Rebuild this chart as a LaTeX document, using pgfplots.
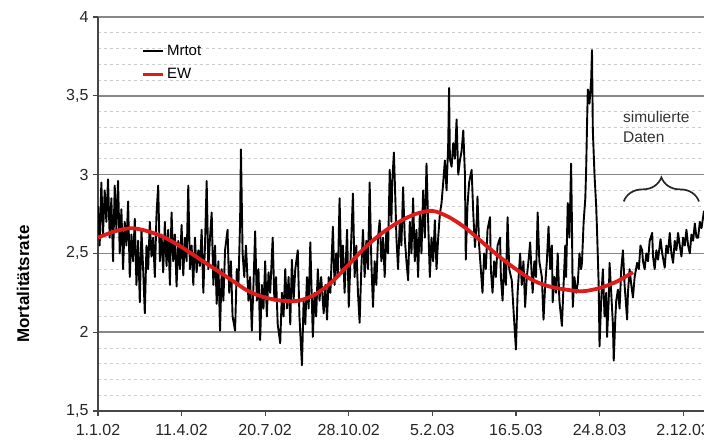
\documentclass[border=0pt]{standalone}
\usepackage{fontspec}
\setmainfont{Liberation Sans}
\usepackage{pgfplots}
\pgfplotsset{compat=1.18}
\usetikzlibrary{decorations.pathreplacing}
\definecolor{ewred}{RGB}{222,28,28}
\definecolor{gridgray}{RGB}{135,135,135}
\definecolor{minorgray}{RGB}{205,205,205}
\definecolor{axgray}{RGB}{70,70,70}
\begin{document}
\begin{tikzpicture}
\begin{axis}[
  name=ax,
  width=606pt, height=394pt, scale only axis,
  xmin=0, xmax=725, ymin=1.5, ymax=4,
  axis lines*=left,
  axis line style={-, line width=2pt, axgray},
  xtick={0,100,200,300,400,500,600,700},
  xticklabels={1.1.02,11.4.02,20.7.02,28.10.02,5.2.03,16.5.03,24.8.03,2.12.03},
  ytick={1.5,2,2.5,3,3.5,4},
  yticklabels={{1,5},2,{2,5},3,{3,5},4},
  minor ytick={1.6,1.7,1.8,1.9,2.1,2.2,2.3,2.4,2.6,2.7,2.8,2.9,3.1,3.2,3.3,3.4,3.6,3.7,3.8,3.9},
  ymajorgrids, yminorgrids,
  major grid style={gridgray, line width=1.6pt},
  minor grid style={minorgray, line width=0.9pt, dash pattern=on 3pt off 3pt},
  minor tick length=0pt,
  tick align=outside, major tick length=5pt,
  tick style={axgray, line width=1.2pt},
  ticklabel style={font=\fontsize{16}{19}\selectfont, text=black!85},
  xticklabel style={yshift=-5pt},
  yticklabel style={xshift=-1pt},
  /pgf/number format/assume math mode=true,
  legend style={at={(0.071,0.935)}, anchor=north west, draw=none, fill=none,
    font=\fontsize{15}{17}\selectfont, row sep=8pt, inner sep=0pt},
  legend cell align=left,
  legend image code/.code={\draw[#1] (0pt,0pt) -- (20pt,0pt);},
]
\addplot[black, line width=1.9pt, line join=round, no markers] coordinates {
(0,2.80)(2,2.55)(4,2.95)(6,2.62)(8,2.90)(10,2.70)(12,2.97)(14,2.60)(16,2.85)(18,2.45)
(20,2.93)(22,2.65)(24,2.96)(26,2.50)(28,2.78)(30,2.40)(32,2.70)(34,2.55)(36,2.83)(38,2.35)
(40,2.62)(42,2.45)(44,2.72)(46,2.30)(48,2.58)(50,2.19)(52,2.65)(54,2.40)(56,2.12)(58,2.55)
(60,2.40)(62,2.70)(64,2.48)(66,2.60)(68,2.35)(70,2.75)(72,2.93)(74,2.45)(76,2.62)(78,2.38)
(80,2.70)(82,2.42)(84,2.65)(86,2.30)(88,2.76)(90,2.45)(92,2.62)(94,2.29)(96,2.58)(98,2.40)
(100,2.68)(102,2.36)(104,2.60)(106,2.45)(108,2.93)(110,2.40)(112,2.55)(114,2.30)(116,2.60)(118,2.38)
(120,2.52)(122,2.42)(124,2.65)(126,2.25)(128,2.55)(130,2.96)(132,2.40)(134,2.60)(136,2.76)(138,2.30)
(140,2.55)(142,2.18)(144,2.45)(146,2.01)(148,2.40)(150,2.20)(152,2.52)(155,2.65)(157,2.25)(159,2.45)
(161,2.10)(164,2.01)(166,2.40)(168,2.30)(170,2.70)(171,3.16)(173,2.50)(175,2.35)(177,2.55)(178,2.44)
(180,2.20)(182,2.35)(184,2.01)(186,2.30)(188,2.64)(190,2.20)(192,2.40)(194,1.95)(196,2.30)(198,2.15)
(200,2.45)(202,2.10)(204,2.38)(206,2.25)(209,2.60)(211,2.20)(213,2.35)(215,2.05)(218,1.93)(220,2.25)
(222,2.10)(224,2.40)(226,2.15)(228,2.35)(230,2.05)(232,2.46)(234,2.20)(236,2.40)(239,2.52)(241,2.10)
(244,1.79)(246,2.20)(248,2.05)(250,2.35)(252,2.15)(254,2.57)(257,1.97)(259,2.25)(261,2.10)(263,2.40)
(265,2.20)(267,2.35)(270,2.12)(272,2.30)(274,2.08)(276,2.35)(278,2.25)(281,2.67)(283,2.30)(285,2.50)
(287,2.35)(289,2.85)(291,2.40)(293,2.55)(295,2.25)(298,2.65)(300,2.16)(302,2.45)(305,2.88)(307,2.35)
(309,2.55)(311,2.25)(313,2.06)(315,2.40)(317,2.65)(319,2.35)(321,2.58)(323,2.40)(325,2.95)(327,2.45)
(329,2.16)(331,2.45)(333,2.30)(335,2.60)(337,2.71)(339,2.45)(341,2.60)(343,2.35)(345,2.65)(347,2.50)
(349,3.03)(351,2.70)(352,2.95)(354,3.14)(356,2.80)(357,2.60)(359,2.40)(361,2.70)(363,2.55)(365,2.92)
(367,2.60)(369,2.45)(371,2.33)(373,2.70)(375,2.50)(377,2.85)(379,2.45)(381,2.65)(383,2.35)(385,2.75)
(387,2.50)(389,2.90)(391,2.60)(393,3.07)(395,2.70)(397,2.35)(399,2.60)(401,2.45)(403,2.71)(405,2.40)
(407,2.60)(409,2.75)(411,2.82)(413,2.95)(415,3.09)(417,2.90)(419,3.20)(420,3.55)(421,3.10)(423,3.05)
(425,3.20)(427,3.10)(429,3.35)(431,3.00)(433,3.09)(435,3.15)(437,3.28)(439,3.00)(440,2.46)(442,2.80)
(444,2.95)(447,3.03)(449,2.75)(451,2.54)(453,2.70)(454,2.86)(456,2.55)(458,2.40)(460,2.25)(462,2.50)
(464,2.40)(466,2.65)(469,2.73)(470,2.40)(472,2.25)(474,2.45)(476,2.35)(478,2.55)(481,2.60)(482,2.35)
(484,2.20)(486,2.45)(488,2.30)(490,2.73)(492,2.40)(495,2.33)(497,2.15)(500,1.89)(502,2.25)(505,2.50)
(507,2.30)(509,2.45)(511,2.16)(513,2.35)(515,2.45)(517,2.57)(519,2.35)(520,2.25)(522,2.45)(524,2.35)
(526,2.76)(528,2.45)(531,2.35)(533,2.08)(535,2.30)(537,2.45)(539,2.67)(541,2.40)(543,2.55)(544,2.19)
(546,2.35)(548,2.25)(550,2.50)(552,2.20)(555,2.04)(557,2.30)(559,2.55)(560,2.35)(562,2.82)(564,2.60)
(566,3.07)(567,2.70)(568,2.16)(570,2.35)(572,2.25)(574,2.31)(576,2.50)(578,2.40)(579,2.44)(581,2.70)
(583,2.85)(584,3.03)(585,3.30)(586,3.54)(588,3.45)(590,3.60)(591,3.79)(592,3.28)(594,3.00)(596,2.80)
(597,2.65)(599,2.30)(600,1.91)(602,2.20)(604,2.40)(606,2.10)(608,2.25)(609,1.97)(611,2.20)(612,2.44)
(614,2.25)(616,2.05)(617,1.82)(619,2.10)(620,2.20)(622,2.27)(624,2.15)(626,2.40)(628,2.52)(630,2.30)
(633,2.08)(634,2.25)(636,2.40)(638,2.30)(640,2.22)(642,2.35)(645,2.44)(647,2.40)(649,2.55)(651,2.52)
(652,2.45)(654,2.40)(656,2.50)(658,2.45)(660,2.58)(663,2.63)(664,2.48)(666,2.40)(668,2.52)(670,2.46)
(673,2.59)(675,2.50)(678,2.41)(680,2.55)(682,2.50)(684,2.63)(686,2.50)(688,2.44)(690,2.58)(692,2.52)
(694,2.63)(696,2.55)(698,2.48)(700,2.60)(702,2.55)(704,2.65)(706,2.55)(708,2.50)(710,2.62)(712,2.58)
(714,2.69)(716,2.60)(718,2.60)(720,2.70)(722,2.66)(725,2.77)
};
\addlegendentry{Mrtot}
\addplot[ewred, line width=3.8pt, smooth, no markers] coordinates {
(0,2.60)(20,2.64)(40,2.66)(60,2.64)(80,2.60)(100,2.54)(120,2.47)(140,2.40)(160,2.33)
(180,2.26)(200,2.22)(220,2.20)(240,2.20)(260,2.24)(280,2.32)(300,2.43)(320,2.54)(340,2.63)
(360,2.70)(380,2.75)(400,2.77)(420,2.73)(440,2.66)(460,2.57)(480,2.48)(500,2.40)(520,2.33)
(540,2.29)(560,2.27)(580,2.26)(600,2.28)(620,2.32)(640,2.38)
};
\addlegendentry{EW}
\draw[decorate, decoration={brace, amplitude=24pt}, line width=1.7pt, black!85]
  (axis cs:629,2.83) -- (axis cs:719,2.83);
\node[anchor=north west, align=left, inner sep=0pt, text=black!80,
  font=\fontsize{15.5}{20}\selectfont] at (axis cs:628,3.40) {simulierte\\Daten};
\end{axis}
\node[rotate=90, font=\bfseries\fontsize{17}{20}\selectfont]
  at ([shift={(-75pt,127pt)}]ax.south west) {Mortalitätsrate};
\pgfresetboundingbox
\path[use as bounding box] ([shift={(-98pt,-31pt)}]ax.south west) rectangle ([shift={(0pt,17pt)}]ax.north east);
\end{tikzpicture}
\end{document}
